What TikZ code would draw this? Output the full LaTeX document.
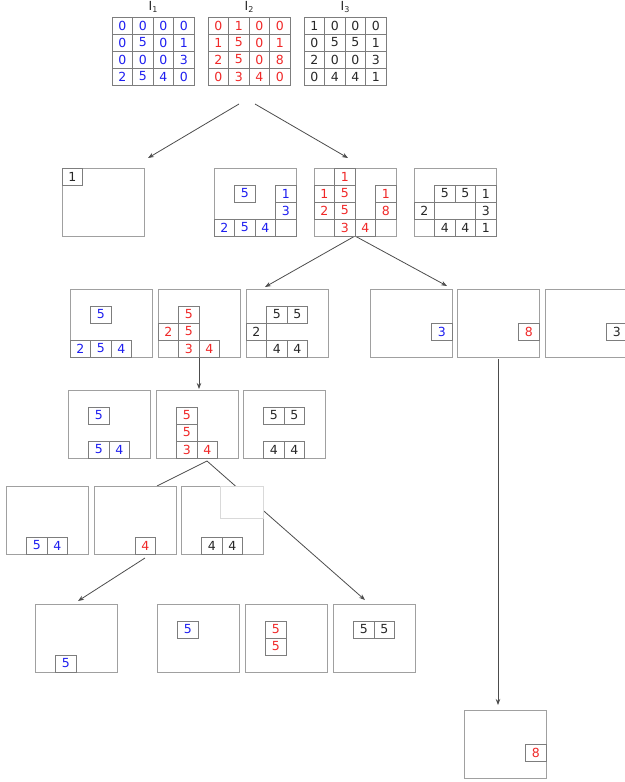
\documentclass[tikz,border=0pt]{standalone}
\usepackage{fontspec}
\setmainfont{DejaVu Sans}
\usetikzlibrary{arrows.meta,backgrounds}
\definecolor{cblue}{RGB}{30,30,240}
\definecolor{cred}{RGB}{240,40,40}
\definecolor{cblack}{RGB}{40,40,40}
\definecolor{frm}{RGB}{160,160,160}
\definecolor{cellline}{RGB}{125,125,125}
\tikzset{
 frame/.style={draw=frm, fill=white, line width=1pt, minimum width=82pt, minimum height=68pt, anchor=north west, inner sep=0pt, outer sep=0pt},
 cellbox/.style={draw=cellline, line width=0.9pt, minimum width=20.5pt, minimum height=17pt, inner sep=0pt, font=\fontsize{12.5}{12.5}\selectfont, fill=white},
 B/.style={text=cblue}, R/.style={text=cred}, K/.style={text=cblack},
 conn/.style={draw=black!70, line width=0.8pt},
 arr/.style={conn, -{Stealth[length=6pt,width=4.5pt]}},
 lbl/.style={font=\fontsize{12.5}{12.5}\selectfont, text=cblack, inner sep=0pt}
}
\newcommand\cellin[5]{\node[cellbox,#4] (#1-#2-#3) at ([shift={(#2*20.5pt+10.25pt,-#3*17pt-8.5pt)}]#1.north west) {#5};}
\newcommand\mrow[7]{\cellin{#1}{0}{#2}{#3}{#4}\cellin{#1}{1}{#2}{#3}{#5}\cellin{#1}{2}{#2}{#3}{#6}\cellin{#1}{3}{#2}{#3}{#7}}
\begin{document}
\begin{tikzpicture}[x=1pt,y=1pt]
\useasboundingbox (0,0) rectangle (624,-782);
% top matrices
\node[frame] (I1) at (112,-17) {};
\node[frame] (I2) at (208,-17) {};
\node[frame] (I3) at (304,-17) {};
\node[lbl] (l1) at (153,-7) {I\raisebox{-0.35ex}{\fontsize{8}{8}\selectfont 1}};
\node[lbl] (l2) at (249,-7) {I\raisebox{-0.35ex}{\fontsize{8}{8}\selectfont 2}};
\node[lbl] (l3) at (345,-7) {I\raisebox{-0.35ex}{\fontsize{8}{8}\selectfont 3}};
\mrow{I1}{0}{B}{0}{0}{0}{0}
\mrow{I1}{1}{B}{0}{5}{0}{1}
\mrow{I1}{2}{B}{0}{0}{0}{3}
\mrow{I1}{3}{B}{2}{5}{4}{0}
\mrow{I2}{0}{R}{0}{1}{0}{0}
\mrow{I2}{1}{R}{1}{5}{0}{1}
\mrow{I2}{2}{R}{2}{5}{0}{8}
\mrow{I2}{3}{R}{0}{3}{4}{0}
\mrow{I3}{0}{K}{1}{0}{0}{0}
\mrow{I3}{1}{K}{0}{5}{5}{1}
\mrow{I3}{2}{K}{2}{0}{0}{3}
\mrow{I3}{3}{K}{0}{4}{4}{1}
% row 2
\node[frame] (A) at (62,-168) {};
\cellin{A}{0}{0}{K}{1}
\node[frame] (Bx) at (214,-168) {};
\cellin{Bx}{1}{1}{B}{5}
\cellin{Bx}{3}{1}{B}{1}
\cellin{Bx}{3}{2}{B}{3}
\cellin{Bx}{0}{3}{B}{2}
\cellin{Bx}{1}{3}{B}{5}
\cellin{Bx}{2}{3}{B}{4}
\cellin{Bx}{3}{3}{B}{}
\node[frame] (C) at (314,-168) {};
\cellin{C}{1}{0}{R}{1}
\cellin{C}{0}{1}{R}{1}
\cellin{C}{1}{1}{R}{5}
\cellin{C}{0}{2}{R}{2}
\cellin{C}{1}{2}{R}{5}
\cellin{C}{1}{3}{R}{3}
\cellin{C}{2}{3}{R}{4}
\cellin{C}{3}{1}{R}{1}
\cellin{C}{3}{2}{R}{8}
\node[frame] (D) at (414,-168) {};
\cellin{D}{1}{1}{K}{5}
\cellin{D}{2}{1}{K}{5}
\cellin{D}{3}{1}{K}{1}
\cellin{D}{0}{2}{K}{2}
\cellin{D}{3}{2}{K}{3}
\cellin{D}{1}{3}{K}{4}
\cellin{D}{2}{3}{K}{4}
\cellin{D}{3}{3}{K}{1}
% row 3
\node[frame] (E) at (70,-289) {};
\cellin{E}{1}{1}{B}{5}
\cellin{E}{0}{3}{B}{2}
\cellin{E}{1}{3}{B}{5}
\cellin{E}{2}{3}{B}{4}
\node[frame] (F) at (158,-289) {};
\cellin{F}{1}{1}{R}{5}
\cellin{F}{0}{2}{R}{2}
\cellin{F}{1}{2}{R}{5}
\cellin{F}{1}{3}{R}{3}
\cellin{F}{2}{3}{R}{4}
\node[frame] (G) at (246,-289) {};
\cellin{G}{1}{1}{K}{5}
\cellin{G}{2}{1}{K}{5}
\cellin{G}{0}{2}{K}{2}
\cellin{G}{1}{3}{K}{4}
\cellin{G}{2}{3}{K}{4}
\node[frame] (H) at (370,-289) {};
\cellin{H}{3}{2}{B}{3}
\node[frame] (Ib) at (457,-289) {};
\cellin{Ib}{3}{2}{R}{8}
\node[frame] (J) at (545,-289) {};
\cellin{J}{3}{2}{K}{3}
% row 4
\node[frame] (Kb) at (68,-390) {};
\cellin{Kb}{1}{1}{B}{5}
\cellin{Kb}{1}{3}{B}{5}
\cellin{Kb}{2}{3}{B}{4}
\node[frame] (L) at (156,-390) {};
\cellin{L}{1}{1}{R}{5}
\cellin{L}{1}{2}{R}{5}
\cellin{L}{1}{3}{R}{3}
\cellin{L}{2}{3}{R}{4}
\node[frame] (M) at (243,-390) {};
\cellin{M}{1}{1}{K}{5}
\cellin{M}{2}{1}{K}{5}
\cellin{M}{1}{3}{K}{4}
\cellin{M}{2}{3}{K}{4}
% row 5
\node[frame] (N) at (6,-486) {};
\cellin{N}{1}{3}{B}{5}
\cellin{N}{2}{3}{B}{4}
\node[frame] (O) at (94,-486) {};
\cellin{O}{2}{3}{R}{4}
\node[frame] (Q) at (181,-486) {};
\draw[draw=black!15, line width=0.8pt, fill=white] ([shift={(39,0)}]Q.north west) rectangle ([shift={(82,-32)}]Q.north west);
\cellin{Q}{1}{3}{K}{4}
\cellin{Q}{2}{3}{K}{4}
% row 6
\node[frame] (Rb) at (35,-604) {};
\cellin{Rb}{1}{3}{B}{5}
\node[frame] (S) at (157,-604) {};
\cellin{S}{1}{1}{B}{5}
\node[frame] (T) at (245,-604) {};
\cellin{T}{1}{1}{R}{5}
\cellin{T}{1}{2}{R}{5}
\node[frame] (U) at (333,-604) {};
\cellin{U}{1}{1}{K}{5}
\cellin{U}{2}{1}{K}{5}
% bottom
\node[frame] (V) at (464,-710) {};
\cellin{V}{3}{2}{R}{8}
% connector end points
\coordinate (s1) at (239,-104);
\coordinate (s2) at (255,-104);
\coordinate (t1) at (148,-158);
\coordinate (t2) at (348,-158);
\coordinate (t3) at (265,-287);
\coordinate (t4) at (447,-286);
\coordinate (s7) at (207,-461);
\coordinate (t7) at (157,-486);
\coordinate (t8) at (365,-600);
\coordinate (s9) at (145,-558);
\coordinate (t9) at (78,-601);
\begin{pgfonlayer}{background}
\draw[arr] (s1) -- (t1);
\draw[arr] (s2) -- (t2);
\draw[arr] (C.south) -- (t3);
\draw[arr] (C.south) -- (t4);
\draw[arr, shorten <=1pt, shorten >=1pt] (F.south) -- (F.south |- L.north);
\draw[arr, shorten <=2pt, shorten >=5pt] (Ib.south) -- (Ib.south |- V.north);
\draw[conn] (s7) -- (t7);
\draw[arr] (s7) -- (t8);
\draw[arr] (s9) -- (t9);
\end{pgfonlayer}
\end{tikzpicture}
\end{document}
